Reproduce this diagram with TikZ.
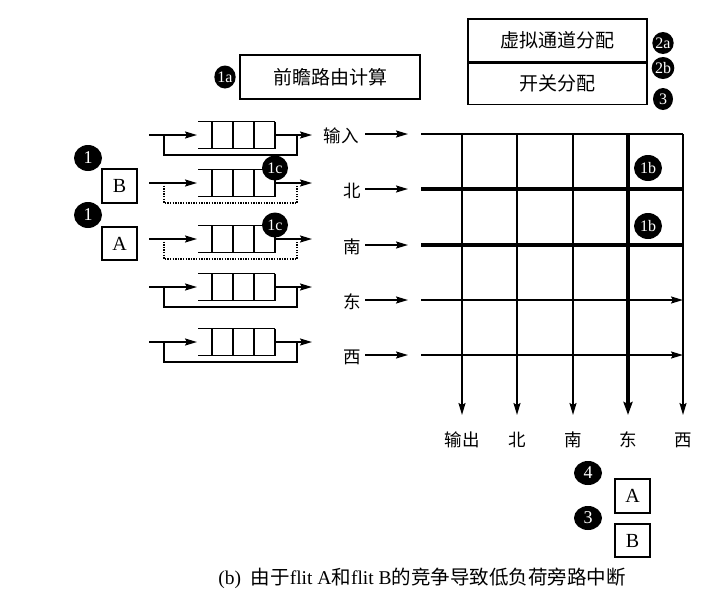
\documentclass[tikz,border=0pt]{standalone}
\usepackage{fontspec}
\setmainfont{Liberation Serif}
\newfontfamily\cjk{Noto Sans CJK SC}
\usetikzlibrary{arrows.meta,shapes.geometric}
\begin{document}
\begin{tikzpicture}[x=1pt,y=-1pt,
  ln/.style={line width=1.8pt},
  thk/.style={line width=4.5pt},
  arr/.style={-{Stealth[length=12pt,width=7pt,inset=2pt]}},
  thkarr/.style={-{Stealth[length=13pt,width=9pt,inset=2pt]}},
  box/.style={draw,line width=1.1pt,inner sep=0pt,font=\fontsize{20}{20}\selectfont},
  cbox/.style={draw,line width=1.1pt,inner sep=0pt,font=\cjk\fontsize{19}{19}\selectfont},
  badge/.style={ellipse,fill=black,text=white,inner sep=0pt,font=\fontsize{16}{16}\selectfont},
  bigbadge/.style={badge,font=\fontsize{18}{18}\selectfont},
  lbl/.style={font=\cjk\fontsize{17.5}{17.5}\selectfont,inner sep=0pt},
  dots/.style={line width=1.8pt,dash pattern=on 1.3pt off 1.3pt}]
\useasboundingbox (0,0) rectangle (711,592);

% top boxes
\node[cbox,minimum width=180pt,minimum height=44pt] (rc) at (330,77) {前瞻路由计算};
\node[badge,minimum width=21pt,minimum height=23pt] (b1a) at (225,77) {1a};
\node[cbox,minimum width=179pt,minimum height=43pt] (vc) at (557.5,40.5) {虚拟通道分配};
\node[cbox,minimum width=179pt,minimum height=41pt,anchor=north] (sa) at (vc.south) {开关分配};
\node[badge,minimum width=20pt,minimum height=22pt] (b2a) at (663,43) {2a};
\node[badge,minimum width=20pt,minimum height=22pt] (b2b) at (663,68) {2b};
\node[badge,minimum width=20pt,minimum height=22pt] (b3t) at (663,99) {3};

% input queues
\foreach \i/\y/\sty in {1/135/ln,2/183/dots,3/239/dots,4/287/ln,5/342/ln}{
  \coordinate (in\i) at (149,\y);
  \coordinate (qi\i) at (197,\y);
  \coordinate (qo\i) at (275,\y);
  \coordinate (out\i) at (312,\y);
  \draw[ln] (198,\y-13.5) -- (275,\y-13.5);
  \draw[ln] (198,\y+13.5) -- (275,\y+13.5);
  \foreach \x in {212,233,254,275} \draw[ln] (\x,\y-13.5) -- (\x,\y+13.5);
  \draw[ln,arr] (in\i) -- (qi\i);
  \draw[ln,arr] (qo\i) -- (out\i);
  \draw[\sty] (164,\y) |- (297,\y+20) -- (297,\y);
}

% flits at input
\node[bigbadge,minimum width=28pt,minimum height=26pt] (b1B) at (88,158) {1};
\node[box,minimum width=35pt,minimum height=34pt] (fB) at (119.5,186) {B};
\node[bigbadge,minimum width=28pt,minimum height=26pt] (b1A) at (88,215) {1};
\node[box,minimum width=35pt,minimum height=33pt] (fA) at (119.5,243.5) {A};
\node[badge,minimum width=26pt,minimum height=25pt] (b1c1) at (275,168) {1c};
\node[badge,minimum width=26pt,minimum height=25pt] (b1c2) at (275,225) {1c};

% row labels and arrows
\foreach \i/\y/\t/\lx in {1/134/输入/341,2/189/北/352,3/245/南/352,4/300/东/352,5/355/西/352}{
  \node[lbl] (r\i) at (\lx,\y+2) {\t};
  \coordinate (ra\i) at (365,\y);
  \coordinate (rb\i) at (408,\y);
  \coordinate (h\i) at (421,\y);
  \coordinate (he\i) at (683,\y);
  \draw[ln,arr] (ra\i) -- (rb\i);
}

% column coordinates
\foreach \j/\x/\t in {1/462/输出,2/517/北,3/573/南,4/628/东,5/683/西}{
  \coordinate (ct\j) at (\x,134);
  \coordinate (cb\j) at (\x,415);
  \node[lbl] (c\j) at (\x,440) {\t};
}

% crossbar
\draw[ln] (h1) -- (he1);
\draw[ln,arr] (h4) -- (he4);
\draw[ln,arr] (h5) -- (he5);
\foreach \j in {1,2,3,5} \draw[ln,arr] (ct\j) -- (cb\j);
\draw[thk] (h2) -- (he2);
\draw[thk] (h3) -- (he3);
\draw[thk,thkarr] (ct4) -- (cb4);

\node[badge,minimum width=28pt,minimum height=26pt] (b1b1) at (648,168) {1b};
\node[badge,minimum width=28pt,minimum height=26pt] (b1b2) at (648,226) {1b};

% output flits
\node[bigbadge,minimum width=28pt,minimum height=24pt] (b4) at (588,473) {4};
\node[box,minimum width=35pt,minimum height=34pt] (oA) at (632.5,496) {A};
\node[bigbadge,minimum width=28pt,minimum height=24pt] (b3b) at (588,518) {3};
\node[box,minimum width=35pt,minimum height=33pt] (oB) at (632.5,540.5) {B};

% caption
\node[font=\fontsize{19.5}{19.5}\selectfont] (cap) at (422,578) {(b)\enspace{\cjk 由于}flit A{\cjk 和}flit B{\cjk 的竞争导致低负荷旁路中断}};
\end{tikzpicture}
\end{document}
